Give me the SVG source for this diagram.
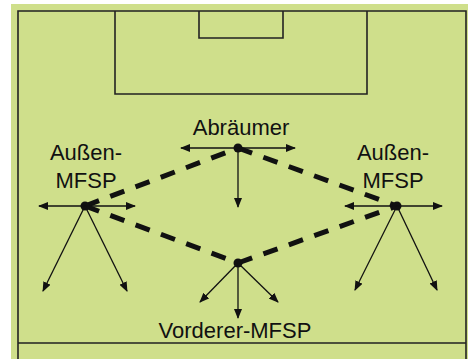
<svg xmlns="http://www.w3.org/2000/svg" width="471" height="359" viewBox="0 0 471 359">
<defs>
<marker id="ah" markerUnits="userSpaceOnUse" markerWidth="10" markerHeight="8" refX="9" refY="4" orient="auto">
<path d="M0,0 L10,4 L0,8 z" fill="#111"/>
</marker>
<style>
.field{fill:none;stroke:#222;stroke-width:1.6}
.arr{stroke:#111;stroke-width:1.3;fill:none;marker-end:url(#ah)}
.dash{stroke:#111;stroke-width:5;fill:none;stroke-dasharray:15 12}
.lbl{font-family:"Liberation Sans",Arial,sans-serif;font-size:22px;fill:#111;text-anchor:middle}
.dot{fill:#111}
</style>
</defs>
<rect x="0" y="0" width="471" height="359" fill="#fff"/>
<rect x="11" y="4" width="457" height="355" fill="#cfdf8b"/>
<g id="field">
<path class="field" d="M18,359 V11 H466 V359 M18,343 H466"/>
<path class="field" d="M115,11 V94 H367 V11"/>
<path class="field" d="M199,11 V38 H283 V11"/>
</g>
<g id="connectors">
<path class="dash" d="M85,206 L238,148"/>
<path class="dash" d="M238,148 L397,206"/>
<path class="dash" d="M85,206 L238,263"/>
<path class="dash" d="M238,263 L397,206"/>
</g>
<g id="abraeumer">
<circle class="dot" cx="238" cy="148" r="4.5"/>
<path class="arr" d="M238,148 H181"/>
<path class="arr" d="M238,148 H295"/>
<path class="arr" d="M238,148 V207"/>
<text class="lbl" x="241" y="135">Abräumer</text>
</g>
<g id="aussen-links">
<circle class="dot" cx="85" cy="206" r="4.5"/>
<path class="arr" d="M85,206 H39"/>
<path class="arr" d="M85,206 H135"/>
<path class="arr" d="M85,206 L43,291"/>
<path class="arr" d="M85,206 L127,291"/>
<text class="lbl" x="86" y="160">Außen-</text>
<text class="lbl" x="86" y="188">MFSP</text>
</g>
<g id="aussen-rechts">
<circle class="dot" cx="397" cy="206" r="4.5"/>
<path class="arr" d="M397,206 H345"/>
<path class="arr" d="M397,206 H442"/>
<path class="arr" d="M397,206 L355,290"/>
<path class="arr" d="M397,206 L437,290"/>
<text class="lbl" x="393" y="160">Außen-</text>
<text class="lbl" x="393" y="188">MFSP</text>
</g>
<g id="vorderer">
<circle class="dot" cx="238" cy="263" r="4.5"/>
<path class="arr" d="M238,263 L200,302"/>
<path class="arr" d="M238,263 V318"/>
<path class="arr" d="M238,263 L278,302"/>
<text class="lbl" x="235" y="338">Vorderer-MFSP</text>
</g>
</svg>
